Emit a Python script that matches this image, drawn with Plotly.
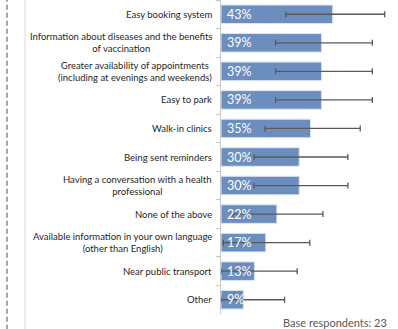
import plotly.graph_objects as go

CATEGORIES = [
    "Easy booking system",
    "Information about diseases and the benefits<br>of vaccination",
    "Greater availability of appointments<br>(including at evenings and weekends)",
    "Easy to park",
    "Walk-in clinics",
    "Being sent reminders",
    "Having a conversation with a health<br>professional",
    "None of the above",
    "Available information in your own language<br>(other than English)",
    "Near public transport",
    "Other",
]
VALUES = [43.4, 39.1, 39.1, 39.1, 34.8, 30.4, 30.4, 21.7, 17.4, 13.0, 8.7]
LABELS = ["43%", "39%", "39%", "39%", "35%", "30%", "30%", "22%", "17%", "13%", "9%"]
ERR_PLUS = [20.2, 19.7, 19.7, 19.7, 19.3, 18.9, 18.9, 17.9, 17.1, 16.6, 16.0]
ERR_MINUS = [18.2, 17.9, 17.9, 17.9, 17.7, 17.6, 17.6, 17.0, 16.5, 13.0, 8.7]
BASE_NOTE = "Base respondents: 23"

FONT = "Lato"
BAR_COLOR = "#6c8ebf"

fig = go.Figure(
    go.Bar(
        x=VALUES,
        y=CATEGORIES,
        orientation="h",
        marker={"color": BAR_COLOR, "line": {"color": "#dde6f2", "width": 1}},
        error_x={
            "type": "data",
            "symmetric": False,
            "array": ERR_PLUS,
            "arrayminus": ERR_MINUS,
            "color": "#595959",
            "thickness": 1.3,
            "width": 3,
        },
        hoverinfo="skip",
    )
)

# category labels, centred lines like the original
for cat in CATEGORIES:
    fig.add_annotation(
        x=0, xref="paper", y=cat, yref="y",
        text=cat, showarrow=False,
        xanchor="right", xshift=-7, align="center",
        font={"family": FONT, "size": 9.5, "color": "#262626"},
    )

# value labels at the start of each bar
for cat, lab in zip(CATEGORIES, LABELS):
    fig.add_annotation(
        x=0, xref="x", y=cat, yref="y",
        text=lab, showarrow=False,
        xanchor="left", xshift=4,
        font={"family": FONT, "size": 12.5, "color": "white"},
    )

fig.add_annotation(
    x=0.962, xref="paper", y=-0.026, yref="paper",
    text=BASE_NOTE, showarrow=False,
    xanchor="right", yanchor="middle",
    font={"family": FONT, "size": 11, "color": "#595959"},
)

# page edge decorations at the left
fig.add_shape(type="line", xref="paper", yref="paper",
              x0=-1.223, x1=-1.223, y0=-0.05, y1=1.0,
              line={"color": "#a6a6a6", "width": 2, "dash": "5px,3px"})
fig.add_shape(type="line", xref="paper", yref="paper",
              x0=-1.121, x1=-1.121, y0=-0.05, y1=1.0,
              line={"color": "#ececec", "width": 2})

fig.update_layout(
    width=398,
    height=329,
    margin={"l": 221, "r": 2, "t": 0, "b": 15},
    paper_bgcolor="white",
    plot_bgcolor="white",
    bargap=0.35,
    showlegend=False,
    font={"family": FONT},
    xaxis={
        "range": [0, 68],
        "visible": False,
        "showgrid": False,
        "zeroline": False,
    },
    yaxis={
        "autorange": "reversed",
        "showticklabels": False,
        "showgrid": False,
        "showline": True,
        "linecolor": "#c8c8c8",
        "linewidth": 1,
        "ticks": "outside",
        "tickson": "boundaries",
        "ticklen": 4,
        "tickcolor": "#c8c8c8",
    },
)

fig.write_html(
    "out.html",
    config={"displayModeBar": False},
    post_script="document.body.style.margin='0';",
)
